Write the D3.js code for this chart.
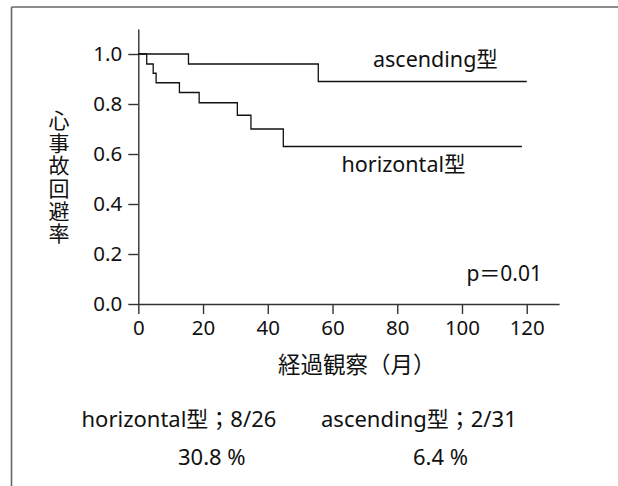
<!DOCTYPE html>
<html>
<head>
<meta charset="utf-8">
<script src="https://cdn.jsdelivr.net/npm/d3@7"></script>
<style>
  html, body { margin: 0; padding: 0; background: #fff; }
  svg { display: block; }
  text { font-family: "Noto Sans", "Noto Sans CJK JP", sans-serif; fill: #111; }
</style>
</head>
<body>
<svg id="chart" width="618" height="486"></svg>
<script>
// Kaplan–Meier step data: months of follow-up and cardiac-event-free rate
const ascMonths = [0, 15.5, 55.6, 120];
const ascSurvival = [1.0, 0.96, 0.89, 0.89];
const horMonths = [0, 2.6, 4.6, 5.5, 12.7, 18.8, 30.6, 34.8, 44.8, 118.5];
const horSurvival = [1.0, 0.96, 0.923, 0.885, 0.846, 0.805, 0.755, 0.70, 0.63, 0.63];

const xTicks = [0, 20, 40, 60, 80, 100, 120];
const yTicks = [0, 0.2, 0.4, 0.6, 0.8, 1.0];

const yTitle = "心事故回避率";
const xTitle = "経過観察（月）";
const seriesLabels = ["ascending型", "horizontal型"];
const pText = "p＝0.01";
const summaryLines = ["horizontal型；8/26", "ascending型；2/31"];
const summaryRates = ["30.8 %", "6.4 %"];

const svg = d3.select("#chart");

// outer frame (top and left edges)
svg.append("line").attr("x1", 11.5).attr("y1", 7).attr("x2", 618).attr("y2", 7)
  .attr("stroke", "#666").attr("stroke-width", 1.6);
svg.append("line").attr("x1", 11.5).attr("y1", 7).attr("x2", 11.5).attr("y2", 486)
  .attr("stroke", "#666").attr("stroke-width", 1.6);

const x = d3.scaleLinear().domain([0, 130]).range([138.3, 559.1]);
const y = d3.scaleLinear().domain([0, 1.1]).range([304, 29]);

const axisColor = "#333";

// x axis
const gx = svg.append("g").attr("transform", `translate(0,${y(0)})`)
  .call(d3.axisBottom(x).tickValues(xTicks).tickSize(10).tickSizeOuter(0).tickPadding(6)
    .tickFormat(d3.format("d")));
// y axis
const gy = svg.append("g").attr("transform", `translate(${x(0)},0)`)
  .call(d3.axisLeft(y).tickValues(yTicks).tickSize(10).tickSizeOuter(0).tickPadding(6)
    .tickFormat(d3.format(".1f")));

[gx, gy].forEach(g => {
  g.select(".domain").attr("stroke", axisColor).attr("stroke-width", 1.4);
  g.selectAll(".tick line").attr("stroke", axisColor).attr("stroke-width", 1.4);
  g.selectAll(".tick text").attr("font-size", 20.5)
    .attr("font-family", '"Noto Sans", sans-serif').attr("fill", "#111");
});

// survival step curves
const line = d3.line().x(d => x(d[0])).y(d => y(d[1])).curve(d3.curveStepAfter);
const series = [
  d3.zip(ascMonths, ascSurvival),
  d3.zip(horMonths, horSurvival)
];
svg.selectAll("path.km").data(series).join("path")
  .attr("class", "km")
  .attr("d", line)
  .attr("fill", "none")
  .attr("stroke", "#111")
  .attr("stroke-width", 1.3);

// series labels
svg.append("text").attr("x", 373).attr("y", 66.5).attr("font-size", 21.5).text(seriesLabels[0]);
svg.append("text").attr("x", 341.5).attr("y", 171.5).attr("font-size", 21.5).text(seriesLabels[1]);

// p value
svg.append("text").attr("x", 542).attr("y", 280.5).attr("text-anchor", "end")
  .attr("font-size", 21).text(pText);

// y title, set vertically
svg.append("text")
  .attr("x", 58).attr("y", 109.5)
  .attr("font-size", 21)
  .style("writing-mode", "vertical-rl")
  .style("letter-spacing", "1.7px")
  .text(yTitle);

// x title
svg.append("text").attr("x", 278).attr("y", 373).attr("font-size", 22.5).text(xTitle);

// summary rows
svg.append("text").attr("x", 81.5).attr("y", 426.5).attr("font-size", 22).text(summaryLines[0]);
svg.append("text").attr("x", 321).attr("y", 426.5).attr("font-size", 22).text(summaryLines[1]);
svg.append("text").attr("x", 178).attr("y", 465).attr("font-size", 22).text(summaryRates[0]);
svg.append("text").attr("x", 413).attr("y", 465).attr("font-size", 22).text(summaryRates[1]);
</script>
</body>
</html>
